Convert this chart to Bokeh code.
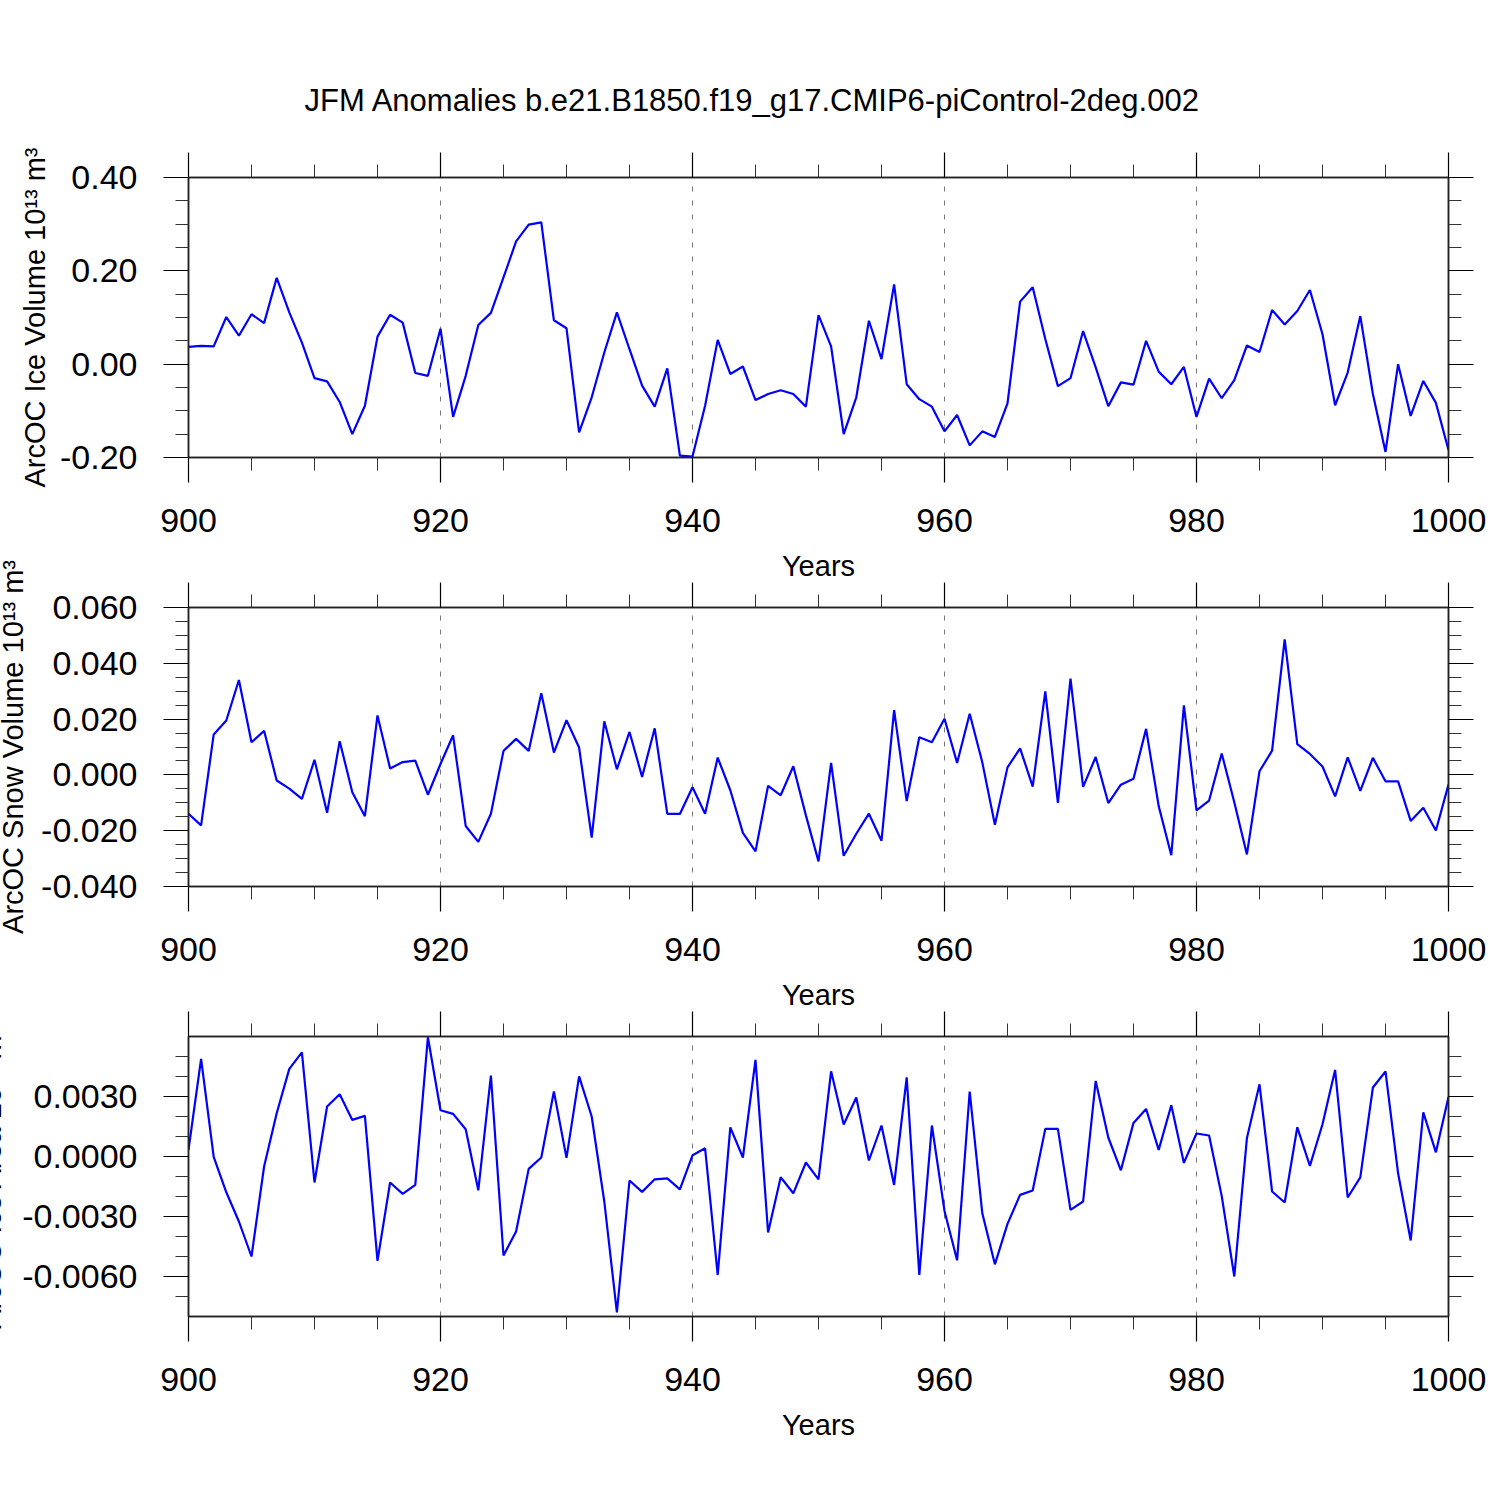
from bokeh.plotting import figure
from bokeh.models import (Range1d, LinearAxis, FixedTicker, PrintfTickFormatter,
                          Title, CustomLabelingPolicy)
from bokeh.layouts import column
from bokeh.embed import file_html
from bokeh.resources import INLINE

years = list(range(900, 1001))

ice_volume = [
    0.037, 0.039, 0.038, 0.101, 0.061, 0.107, 0.088, 0.185, 0.111, 0.046,
    -0.030, -0.037, -0.081, -0.150, -0.089, 0.059, 0.106, 0.089, -0.019, -0.025,
    0.076, -0.113, -0.025, 0.084, 0.110, 0.186, 0.263, 0.299, 0.304, 0.094,
    0.077, -0.146, -0.071, 0.025, 0.111, 0.032, -0.046, -0.091, -0.009, -0.196,
    -0.198, -0.089, 0.052, -0.021, -0.005, -0.077, -0.064, -0.056, -0.064, -0.091,
    0.105, 0.038, -0.150, -0.071, 0.093, 0.011, 0.171, -0.043, -0.075, -0.091,
    -0.144, -0.109, -0.174, -0.144, -0.156, -0.084, 0.134, 0.165, 0.054, -0.047,
    -0.030, 0.071, -0.007, -0.090, -0.039, -0.044, 0.050, -0.016, -0.043, -0.006,
    -0.113, -0.031, -0.073, -0.034, 0.040, 0.026, 0.116, 0.085, 0.114, 0.159,
    0.064, -0.088, -0.018, 0.103, -0.064, -0.188, 0.000, -0.111, -0.036, -0.083,
    -0.184,
]

snow_volume = [
    -0.0139, -0.0181, 0.0145, 0.0195, 0.0340, 0.0117, 0.0158, -0.0020, -0.0049, -0.0086,
    0.0054, -0.0136, 0.0121, -0.0062, -0.0148, 0.0213, 0.0023, 0.0046, 0.0051, -0.0071,
    0.0039, 0.0142, -0.0183, -0.0240, -0.0139, 0.0086, 0.0129, 0.0086, 0.0293, 0.0080,
    0.0196, 0.0098, -0.0225, 0.0192, 0.0020, 0.0154, -0.0007, 0.0167, -0.0140, -0.0140,
    -0.0044, -0.0139, 0.0062, -0.0055, -0.0208, -0.0274, -0.0039, -0.0073, 0.0031, -0.0145,
    -0.0310, 0.0043, -0.0290, -0.0211, -0.0139, -0.0236, 0.0232, -0.0094, 0.0135, 0.0117,
    0.0201, 0.0043, 0.0219, 0.0045, -0.0179, 0.0027, 0.0095, -0.0042, 0.0299, -0.0100,
    0.0345, -0.0043, 0.0064, -0.0101, -0.0035, -0.0014, 0.0165, -0.0112, -0.0288, 0.0249,
    -0.0127, -0.0092, 0.0077, -0.0098, -0.0285, 0.0013, 0.0087, 0.0486, 0.0110, 0.0075,
    0.0030, -0.0077, 0.0063, -0.0057, 0.0061, -0.0023, -0.0023, -0.0165, -0.0118, -0.0199,
    -0.0035,
]

ice_area = [
    0.00035, 0.00490, 0.00000, -0.00177, -0.00323, -0.00498, -0.00048, 0.00218, 0.00440, 0.00523,
    -0.00128, 0.00252, 0.00313, 0.00185, 0.00205, -0.00520, -0.00128, -0.00185, -0.00140, 0.00598,
    0.00233, 0.00215, 0.00138, -0.00167, 0.00407, -0.00493, -0.00373, -0.00060, -0.00003, 0.00327,
    -0.00005, 0.00403, 0.00202, -0.00223, -0.00778, -0.00118, -0.00175, -0.00112, -0.00107, -0.00162,
    0.00008, 0.00043, -0.00590, 0.00148, -0.00003, 0.00485, -0.00378, -0.00102, -0.00182, -0.00028,
    -0.00112, 0.00428, 0.00162, 0.00297, -0.00018, 0.00157, -0.00140, 0.00398, -0.00590, 0.00157,
    -0.00270, -0.00517, 0.00327, -0.00282, -0.00537, -0.00335, -0.00190, -0.00168, 0.00140, 0.00140,
    -0.00265, -0.00223, 0.00380, 0.00097, -0.00067, 0.00170, 0.00240, 0.00035, 0.00258, -0.00030,
    0.00117, 0.00107, -0.00195, -0.00598, 0.00093, 0.00363, -0.00173, -0.00228, 0.00148, -0.00045,
    0.00163, 0.00435, -0.00203, -0.00102, 0.00347, 0.00427, -0.00082, -0.00418, 0.00223, 0.00023,
    0.00300,
]

x_major = [900, 920, 940, 960, 980, 1000]
x_minor = [905, 910, 915, 925, 930, 935, 945, 950, 955, 965, 970, 975, 985, 990, 995]

title_text = "JFM Anomalies b.e21.B1850.f19_g17.CMIP6-piControl-2deg.002"
x_title = "Years"
y_titles = ["ArcOC Ice Volume 10\u00b9\u00b3 m\u00b3",
            "ArcOC Snow Volume 10\u00b9\u00b3 m\u00b3",
            "ArcOC Ice Area 10\u00b9\u00b3 m\u00b2"]

FONT = "Liberation Sans"
LEFT = 220
SHIFT = 32
NO_LABELS = "for (const i of indices) { indices.unset(i) } return indices"


def make_panel(vals, y0, y1, majors, minors, fmt, frame_w, frame_h, ytitle,
               top, bottom, ylab_standoff, margin_top):
    p = figure(frame_width=frame_w, frame_height=frame_h,
               x_range=Range1d(900, 1000), y_range=Range1d(y0, y1),
               output_backend="svg", toolbar_location=None,
               x_axis_location="below", y_axis_location="left",
               min_border_left=LEFT, min_border_right=40,
               min_border_top=top, min_border_bottom=bottom,
               margin=(margin_top, 0, 0, -SHIFT))
    p.background_fill_color = "white"
    p.border_fill_color = None
    p.outline_line_color = "#222222"
    p.outline_line_width = 1.5

    xt = FixedTicker(ticks=x_major, minor_ticks=x_minor)
    yt = FixedTicker(ticks=majors, minor_ticks=minors)

    xb = p.below[0]
    yl = p.left[0]
    xb.ticker = xt
    yl.ticker = yt
    yl.formatter = PrintfTickFormatter(format=fmt)

    above = LinearAxis(ticker=xt, major_label_policy=CustomLabelingPolicy(code=NO_LABELS))
    right = LinearAxis(ticker=yt, major_label_policy=CustomLabelingPolicy(code=NO_LABELS))
    p.add_layout(above, "above")
    p.add_layout(right, "right")

    for ax in [xb, yl, above, right]:
        ax.axis_line_color = "#222222"
        ax.axis_line_width = 1.5
        ax.major_tick_line_color = "black"
        ax.minor_tick_line_color = "#333333"
        ax.major_tick_line_width = 1.2
        ax.minor_tick_line_width = 1
        ax.major_tick_in = 0
        ax.major_tick_out = 25
        ax.minor_tick_in = 0
        ax.minor_tick_out = 13
        ax.major_label_text_font = FONT
        ax.major_label_text_font_size = "34px"
        ax.major_label_text_color = "black"
    above.major_label_standoff = 0
    right.major_label_standoff = 0

    xb.major_label_standoff = 26
    yl.major_label_standoff = 26

    xb.axis_label = x_title
    xb.axis_label_text_font = FONT
    xb.axis_label_text_font_size = "29px"
    xb.axis_label_text_font_style = "normal"
    xb.axis_label_text_color = "black"
    xb.axis_label_standoff = 15

    yl.axis_label = ytitle
    yl.axis_label_text_font = FONT
    yl.axis_label_text_font_size = "29px"
    yl.axis_label_text_font_style = "normal"
    yl.axis_label_text_color = "black"
    yl.axis_label_standoff = ylab_standoff

    p.xgrid.ticker = xt
    p.xgrid.grid_line_color = "#777777"
    p.xgrid.grid_line_width = 1
    p.xgrid.grid_line_dash = "5 9"
    p.ygrid.grid_line_color = None

    p.line(years, vals, line_color="#0000ff", line_width=2.2)
    return p


p1 = make_panel(ice_volume, -0.2, 0.4, [-0.2, 0.0, 0.2, 0.4],
                [-0.15, -0.1, -0.05, 0.05, 0.1, 0.15, 0.25, 0.3, 0.35],
                "%.2f", 1260, 280, y_titles[0], 177, 150, 6, 0)
p2 = make_panel(snow_volume, -0.04, 0.06, [-0.04, -0.02, 0.0, 0.02, 0.04, 0.06],
                [-0.035, -0.03, -0.025, -0.015, -0.01, -0.005, 0.005, 0.01, 0.015,
                 0.025, 0.03, 0.035, 0.045, 0.05, 0.055],
                "%.3f", 1260, 279, y_titles[1], 60, 150, 9, -60)
p3 = make_panel(ice_area, -0.00798, 0.00602, [-0.006, -0.003, 0.0, 0.003],
                [-0.007, -0.005, -0.004, -0.002, -0.001, 0.001, 0.002, 0.004, 0.005],
                "%.4f", 1260 + SHIFT, 280, y_titles[2], 60, 130, 12, -60)

p1.add_layout(Title(text=title_text, align="left", offset=116, standoff=17,
                    text_font=FONT, text_font_size="31px", text_font_style="normal",
                    text_color="black"), "above")

layout = column(p1, p2, p3)
open("out.html", "w").write(file_html(layout, INLINE))
